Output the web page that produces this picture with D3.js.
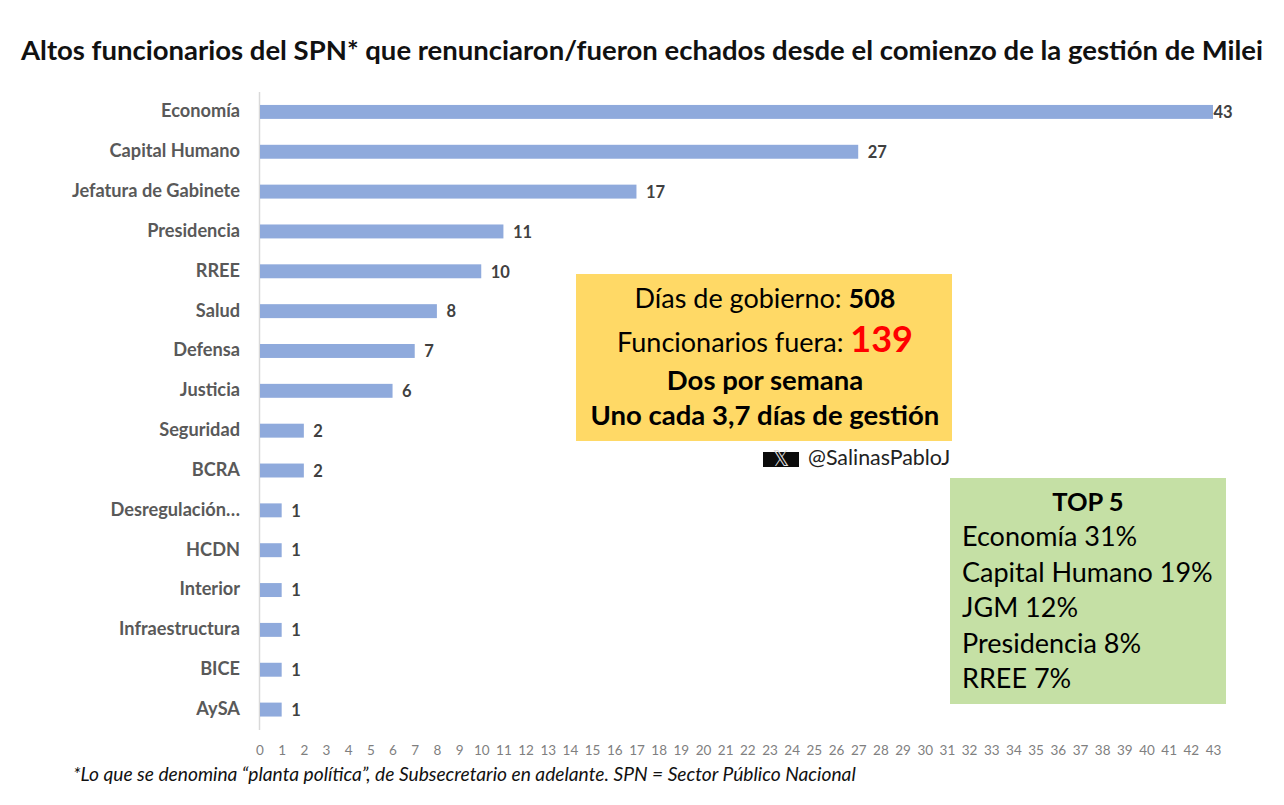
<!DOCTYPE html>
<html><head><meta charset="utf-8">
<script src="https://cdnjs.cloudflare.com/ajax/libs/d3/7.8.5/d3.min.js"></script>
<style>html,body{margin:0;padding:0;background:#fff}svg{display:block}text{font-family:Lato,"Open Sans",sans-serif}</style>
</head><body><svg id="c" width="1284" height="805"></svg>
<script>
const categories=["Economía","Capital Humano","Jefatura de Gabinete","Presidencia","RREE","Salud","Defensa","Justicia","Seguridad","BCRA","Desregulación…","HCDN","Interior","Infraestructura","BICE","AySA"];
const values=[43,27,17,11,10,8,7,6,2,2,1,1,1,1,1,1];
const xTicks=d3.range(0,44);
const titleText="Altos funcionarios del SPN* que renunciaron/fueron echados desde el comienzo de la gestión de Milei";
const footnote="*Lo que se denomina “planta política”, de Subsecretario en adelante. SPN = Sector Público Nacional";
const top5Title="TOP 5";
const top5=["Economía 31%","Capital Humano 19%","JGM 12%","Presidencia 8%","RREE 7%"];

const svg=d3.select("#c");
const x=d3.scaleLinear().domain([0,43]).range([259.5,1213]);
const y=d3.scaleBand().domain(categories).range([92.5,730]).paddingInner(0.65).paddingOuter(0.325);

svg.append("text").attr("x",642).attr("y",60).attr("text-anchor","middle")
  .attr("font-size",27.5).attr("font-weight",700).attr("fill","#111").text(titleText);

svg.append("line").attr("x1",x(0)).attr("x2",x(0)).attr("y1",92).attr("y2",730).attr("stroke","#d9d9d9").attr("stroke-width",1.5);

svg.selectAll("rect.bar").data(values).join("rect").attr("class","bar")
  .attr("x",x(0)+0.5).attr("y",(d,i)=>y(categories[i])-0.5).attr("width",d=>x(d)-x(0)-0.5).attr("height",y.bandwidth()).attr("fill","#8faadc");

svg.selectAll("text.cat").data(categories).join("text").attr("class","cat")
  .attr("x",240).attr("y",d=>y(d)+y.bandwidth()/2-1.5).attr("dy","0.35em").attr("text-anchor","end")
  .attr("font-size",18.2).attr("font-weight",700).attr("fill","#595959").text(d=>d);

svg.selectAll("text.val").data(values).join("text").attr("class","val")
  .attr("x",d=>x(d)+(d===43?0.5:9.5)).attr("y",(d,i)=>y(categories[i])+y.bandwidth()/2).attr("dy","0.35em")
  .attr("font-size",16.5).attr("font-weight",700).attr("fill","#404040").text(d=>d);

const axis=d3.axisBottom(x).tickValues(xTicks).tickSize(0).tickPadding(0).tickFormat(d3.format("d"));
const gx=svg.append("g").attr("transform","translate(0,745)").call(axis);
gx.select(".domain").remove();
gx.selectAll("text").attr("font-size",13.5).attr("fill","#7f7f7f").style("font-family","Lato,sans-serif");

svg.append("text").attr("x",73).attr("y",781).attr("font-size",19.2).attr("font-style","italic").attr("fill","#111").text(footnote);

// yellow box
svg.append("rect").attr("x",576).attr("y",274).attr("width",376).attr("height",167).attr("fill","#ffd966");
const yb=[{y:308,parts:[["Días de gobierno: ",400,"#000",27],["508",700,"#000",27]]},
          {y:352,parts:[["Funcionarios fuera: ",400,"#000",27],["139",700,"#ff0000",36]]},
          {y:390,parts:[["Dos por semana",700,"#000",27.5]]},
          {y:425,parts:[["Uno cada 3,7 días de gestión",700,"#000",27.5]]}];
yb.forEach(l=>{
  const t=svg.append("text").attr("x",765).attr("y",l.y).attr("text-anchor","middle");
  l.parts.forEach(p=>t.append("tspan").attr("font-weight",p[1]).attr("fill",p[2]).attr("font-size",p[3]).text(p[0]));
});

// X handle
svg.append("rect").attr("x",763).attr("y",452).attr("width",36).attr("height",15).attr("fill","#0b0b0b");
svg.append("text").attr("x",781).attr("y",466).attr("text-anchor","middle").attr("font-size",21).attr("fill","#ddd").style("font-family","'DejaVu Sans'").text("𝕏");
svg.append("text").attr("x",808).attr("y",465).attr("font-size",21.4).attr("fill","#222").text("@SalinasPabloJ");

// green box
svg.append("rect").attr("x",950).attr("y",478).attr("width",276).attr("height",226).attr("fill","#c5e0a5");
svg.append("text").attr("x",1088).attr("y",511).attr("text-anchor","middle").attr("font-size",25.5).attr("font-weight",700).attr("fill","#000").text(top5Title);
svg.selectAll("text.top").data(top5).join("text").attr("class","top")
  .attr("x",962).attr("y",(d,i)=>546+i*35.5).attr("font-size",27).attr("fill","#000").text(d=>d);
</script></body></html>
